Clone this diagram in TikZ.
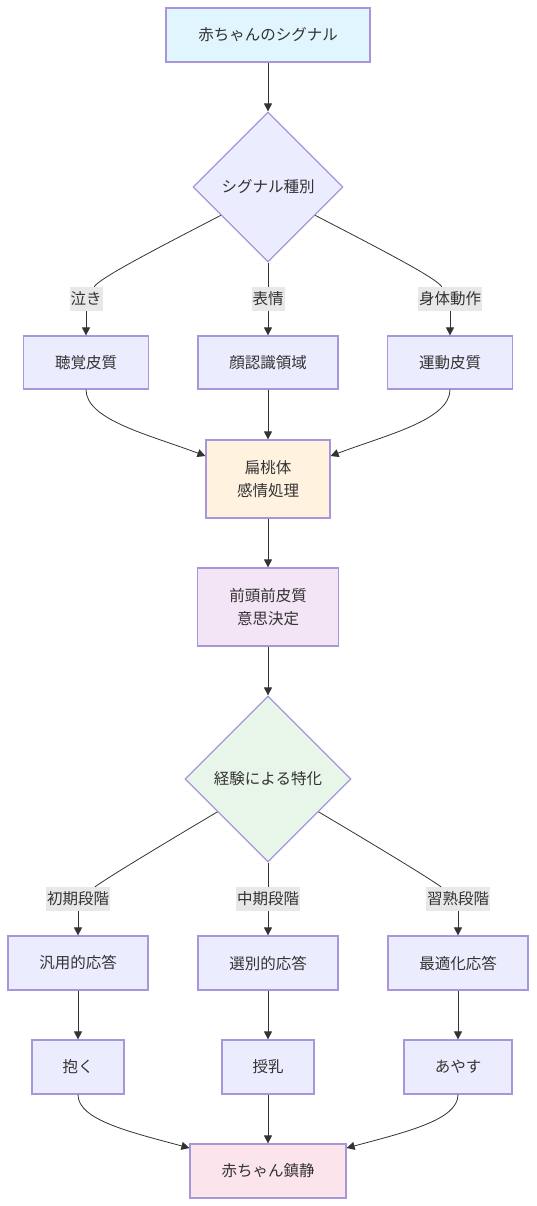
\documentclass[tikz,border=0pt]{standalone}
\usepackage{fontspec}
\setmainfont{Noto Sans CJK JP}
\usetikzlibrary{shapes.geometric,arrows.meta}
\definecolor{edgegray}{HTML}{333333}
\definecolor{boxline}{HTML}{A896DA}
\definecolor{boxfill}{HTML}{ECECFF}
\definecolor{signalfill}{HTML}{E1F5FE}
\definecolor{amygfill}{HTML}{FFF3E0}
\definecolor{pfcfill}{HTML}{F3E5F5}
\definecolor{expfill}{HTML}{E8F5E9}
\definecolor{calmfill}{HTML}{FCE4EC}
\definecolor{lblfill}{HTML}{E8E8E8}
\tikzset{
  box/.style={draw=boxline, fill=boxfill, line width=1.2pt, text=edgegray,
    align=center, inner sep=0pt, font=\fontsize{15.5pt}{23pt}\selectfont},
  choice/.style={box, shape=diamond, aspect=1},
  lbl/.style={fill=lblfill, text=edgegray, inner xsep=1pt, inner ysep=0pt,
    minimum height=24pt, font=\fontsize{15.5pt}{23pt}\selectfont},
  edge/.style={draw=edgegray, line width=0.8pt},
  arr/.style={edge, -{Triangle[length=8pt,width=8pt]}}
}
\begin{document}
\begin{tikzpicture}[x=1pt,y=-1pt]
\useasboundingbox (0,0) rectangle (536,1206);

\node[box, fill=signalfill, minimum width=204pt, minimum height=54pt] (signal) at (268,35) {赤ちゃんのシグナル};
\node[choice, minimum width=150pt, minimum height=150pt] (kind) at (268,187) {シグナル種別};

\node[lbl] (cry) at (86,299) {泣き};
\node[lbl] (face) at (268,299) {表情};
\node[lbl] (body) at (450,299) {身体動作};

\node[box, minimum width=125pt, minimum height=53pt] (audit) at (86,362.5) {聴覚皮質};
\node[box, minimum width=140pt, minimum height=53pt] (facearea) at (268,362.5) {顔認識領域};
\node[box, minimum width=125pt, minimum height=53pt] (motor) at (450,362.5) {運動皮質};

\node[box, fill=amygfill, minimum width=124pt, minimum height=78pt] (amyg) at (268,479) {扁桃体\\感情処理};
\node[box, fill=pfcfill, minimum width=141pt, minimum height=78pt] (pfc) at (268,607) {前頭前皮質\\意思決定};
\node[choice, fill=expfill, minimum width=166pt, minimum height=166pt] (exp) at (268,779) {経験による特化};

\node[lbl] (early) at (78,899) {初期段階};
\node[lbl] (middle) at (268,899) {中期段階};
\node[lbl] (mature) at (458,899) {習熟段階};

\node[box, minimum width=140pt, minimum height=54pt] (generic) at (78,963) {汎用的応答};
\node[box, minimum width=140pt, minimum height=54pt] (select) at (268,963) {選別的応答};
\node[box, minimum width=140pt, minimum height=54pt] (optimal) at (458,963) {最適化応答};

\node[box, minimum width=92pt, minimum height=54pt] (hold) at (78,1067) {抱く};
\node[box, minimum width=92pt, minimum height=54pt] (feed) at (268,1067) {授乳};
\node[box, minimum width=108pt, minimum height=54pt] (soothe) at (458,1067) {あやす};

\node[box, fill=calmfill, minimum width=156pt, minimum height=54pt] (calm) at (268,1171) {赤ちゃん鎮静};

\draw[arr] (signal) -- (kind);

\draw[edge] (kind.211) .. controls (150,252) and (100,278) .. (cry);
\draw[arr] (cry) -- (audit);
\draw[edge] (kind) -- (face);
\draw[arr] (face) -- (facearea);
\draw[edge] (kind.329) .. controls (386,252) and (436,278) .. (body);
\draw[arr] (body) -- (motor);

\draw[arr] (audit.south) .. controls (86,420) and (150,435) .. ([yshift=23pt]amyg.west);
\draw[arr] (facearea) -- (amyg);
\draw[arr] (motor.south) .. controls (450,420) and (386,435) .. ([yshift=23pt]amyg.east);

\draw[arr] (amyg) -- (pfc);
\draw[arr] (pfc) -- (exp);

\draw[edge] (exp.213) .. controls (170,840) and (110,876) .. (early);
\draw[arr] (early) -- (generic);
\draw[edge] (exp) -- (middle);
\draw[arr] (middle) -- (select);
\draw[edge] (exp.327) .. controls (366,840) and (426,876) .. (mature);
\draw[arr] (mature) -- (optimal);

\draw[arr] (generic) -- (hold);
\draw[arr] (select) -- (feed);
\draw[arr] (optimal) -- (soothe);

\draw[arr] (hold.south) .. controls (78,1120) and (130,1132) .. ([yshift=23pt]calm.west);
\draw[arr] (feed) -- (calm);
\draw[arr] (soothe.south) .. controls (458,1120) and (406,1132) .. ([yshift=23pt]calm.east);
\end{tikzpicture}
\end{document}
